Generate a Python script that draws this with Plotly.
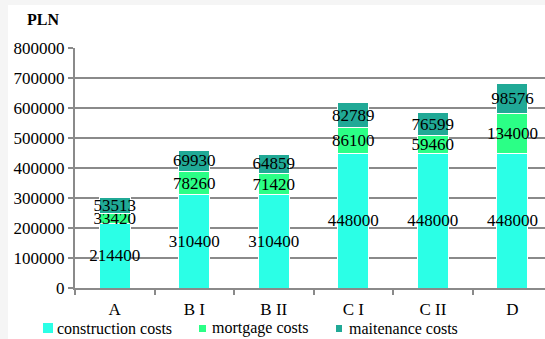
import plotly.graph_objects as go

categories = ["A", "B I", "B II", "C I", "C II", "D"]
construction = [214400, 310400, 310400, 448000, 448000, 448000]
mortgage = [33420, 78260, 71420, 86100, 59460, 134000]
maintenance = [53513, 69930, 64859, 82789, 76599, 98576]

series_names = ["construction costs", "mortgage costs", "maitenance costs"]
series_colors = ["#2bffe6", "#2bff86", "#20a996"]

W, H = 545, 339
ML, MR, MT, MB = 75, 0, 48, 51
PW, PH = W - ML - MR, H - MT - MB
FONT = "Liberation Serif"


def px_x(px):
    return (px - ML) / PW


def px_y(py):
    return (H - MB - py) / PH


fig = go.Figure()
for name, vals, col in zip(series_names, [construction, mortgage, maintenance], series_colors):
    fig.add_trace(go.Bar(
        x=categories, y=vals, name=name,
        marker=dict(color=col, line=dict(color="white", width=1)),
        text=[str(v) for v in vals],
        textposition="inside", insidetextanchor="middle",
        constraintext="none", textangle=0,
        textfont=dict(family=FONT, size=17, color="black"),
        cliponaxis=False, showlegend=False,
    ))

# legend drawn by hand: small squares followed by labels
legend_items = [
    (43, 53, 323, 333, 55),
    (199, 206, 325, 332, 210),
    (336, 342, 325, 332, 347),
]
shapes = []
annotations = []
for (x0, x1, y0, y1, tx), name, col in zip(legend_items, series_names, series_colors):
    shapes.append(dict(type="rect", xref="paper", yref="paper",
                       x0=px_x(x0), x1=px_x(x1), y0=px_y(y1), y1=px_y(y0),
                       fillcolor=col, line=dict(width=0)))
    annotations.append(dict(text=name, xref="paper", yref="paper",
                            x=px_x(tx), y=px_y(328), xanchor="left", yanchor="middle",
                            showarrow=False, font=dict(family=FONT, size=16, color="black")))

# faint page border strips
shapes.append(dict(type="rect", xref="paper", yref="paper", layer="below",
                   x0=px_x(0), x1=px_x(W), y0=px_y(5), y1=px_y(0),
                   fillcolor="#f5f5f5", line=dict(width=0)))
shapes.append(dict(type="rect", xref="paper", yref="paper", layer="below",
                   x0=px_x(0), x1=px_x(8), y0=px_y(H), y1=px_y(0),
                   fillcolor="#f5f5f5", line=dict(width=0)))

annotations.append(dict(text="<b>PLN</b>", xref="paper", yref="paper",
                        x=px_x(43), y=px_y(20), xanchor="center", yanchor="middle",
                        showarrow=False, font=dict(family=FONT, size=16, color="black")))

fig.update_layout(
    width=W, height=H,
    margin=dict(l=ML, r=MR, t=MT, b=MB),
    paper_bgcolor="white", plot_bgcolor="white",
    barmode="stack", bargap=0.61,
    font=dict(family=FONT, size=17, color="black"),
    shapes=shapes, annotations=annotations,
    xaxis=dict(range=[-0.5, 5.41], showgrid=False, showline=True,
               linecolor="#8a8a8a", linewidth=2, ticks="outside", tickson="boundaries",
               ticklen=5, tickcolor="#8a8a8a", tickwidth=2, ticklabelstandoff=5,
               tickfont=dict(family=FONT, size=17, color="black")),
    yaxis=dict(range=[0, 800000], dtick=100000, showgrid=True, gridcolor="#8a8a8a",
               gridwidth=2, showline=True, linecolor="#8a8a8a", linewidth=2,
               ticks="outside", ticklen=5, tickcolor="#8a8a8a", tickwidth=2,
               zeroline=False, tickformat="d",
               tickfont=dict(family=FONT, size=17, color="black")),
)

fig.write_html("out.html")
